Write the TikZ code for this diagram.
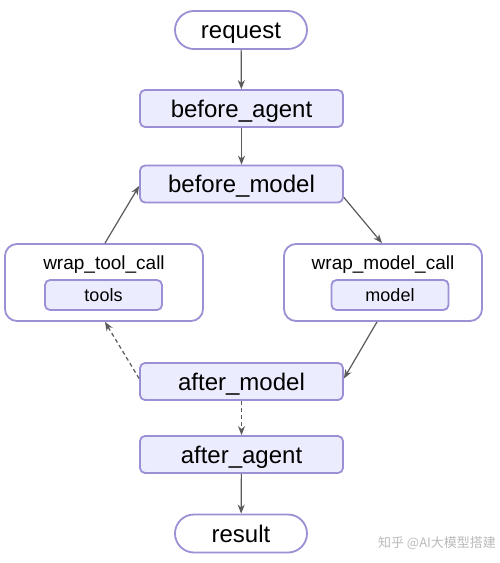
\documentclass[tikz,border=0pt]{standalone}
\usepackage{fontspec}
\setmainfont{Liberation Sans}
\newfontfamily\cjk{Noto Sans CJK SC}
\usetikzlibrary{arrows.meta,shapes.misc}
\definecolor{nodefill}{HTML}{ECECFF}
\definecolor{nodeborder}{HTML}{9B8FD6}
\definecolor{edgecol}{HTML}{5A5A5A}
\definecolor{wmcol}{HTML}{BBBBBB}
\begin{document}
\begin{tikzpicture}[x=1pt,y=-1pt,
 box/.style={draw=nodeborder, fill=nodefill, line width=1.8pt, rounded corners=5pt, minimum width=203pt, minimum height=37pt, inner sep=0pt, text height=17pt, text depth=0pt, font=\fontsize{24}{28}\selectfont},
 term/.style={draw=nodeborder, fill=white, line width=1.8pt, rounded rectangle, minimum width=132pt, minimum height=38pt, inner sep=0pt, text height=17pt, text depth=0pt, font=\fontsize{24}{28}\selectfont},
 cont/.style={draw=nodeborder, fill=white, line width=1.8pt, rounded corners=12pt, minimum width=198pt, minimum height=77pt, inner sep=0pt},
 innerbox/.style={box, minimum width=117pt, minimum height=30pt, text height=13pt, text depth=0pt, font=\fontsize{18}{22}\selectfont},
 lbl/.style={font=\fontsize{19}{22}\selectfont, inner sep=0pt},
 arr/.style={draw=edgecol, line width=1.2pt, -{Stealth[length=9pt,width=7pt]}},
 darr/.style={arr, dash pattern=on 4pt off 3pt}]
\useasboundingbox[fill=white] (0,0) rectangle (500,563);
\node[term] (request) at (241,30) {request};
\node[box] (bagent) at (241.5,108.5) {before\_agent};
\node[box] (bmodel) at (241.5,184) {before\_model};
\node[cont] (wtc) at (104,282.5) {};
\node[lbl] (wtclbl) at (104,265) {wrap\_tool\_call};
\node[innerbox] (tools) at (103.5,295) {tools};
\node[cont] (wmc) at (383,282.5) {};
\node[lbl] (wmclbl) at (383,265) {wrap\_model\_call};
\node[innerbox] (model) at (390,295) {model};
\node[box] (amodel) at (241.5,381.5) {after\_model};
\node[box] (aagent) at (241.5,454.5) {after\_agent};
\node[term] (result) at (241,533.5) {result};
\node[font=\cjk\fontsize{13}{15}\selectfont, text=wmcol, inner sep=0pt] (wm) at (437,543) {知乎 @AI大模型搭建};
\draw[arr] (request) -- (bagent);
\draw[arr] (bagent) -- (bmodel);
\draw[arr] ([yshift=6pt]bmodel.south east) -- ([xshift=-1pt]wmc.north);
\draw[arr] ([xshift=-6pt]wmc.south) -- ([yshift=3pt]amodel.east);
\draw[darr] ([yshift=3pt]amodel.west) -- ([xshift=1pt]wtc.south);
\draw[arr] ([xshift=1pt]wtc.north) -- ([yshift=-2pt]bmodel.west);
\draw[darr] (amodel) -- (aagent);
\draw[arr] (aagent) -- (result);
\end{tikzpicture}
\end{document}
